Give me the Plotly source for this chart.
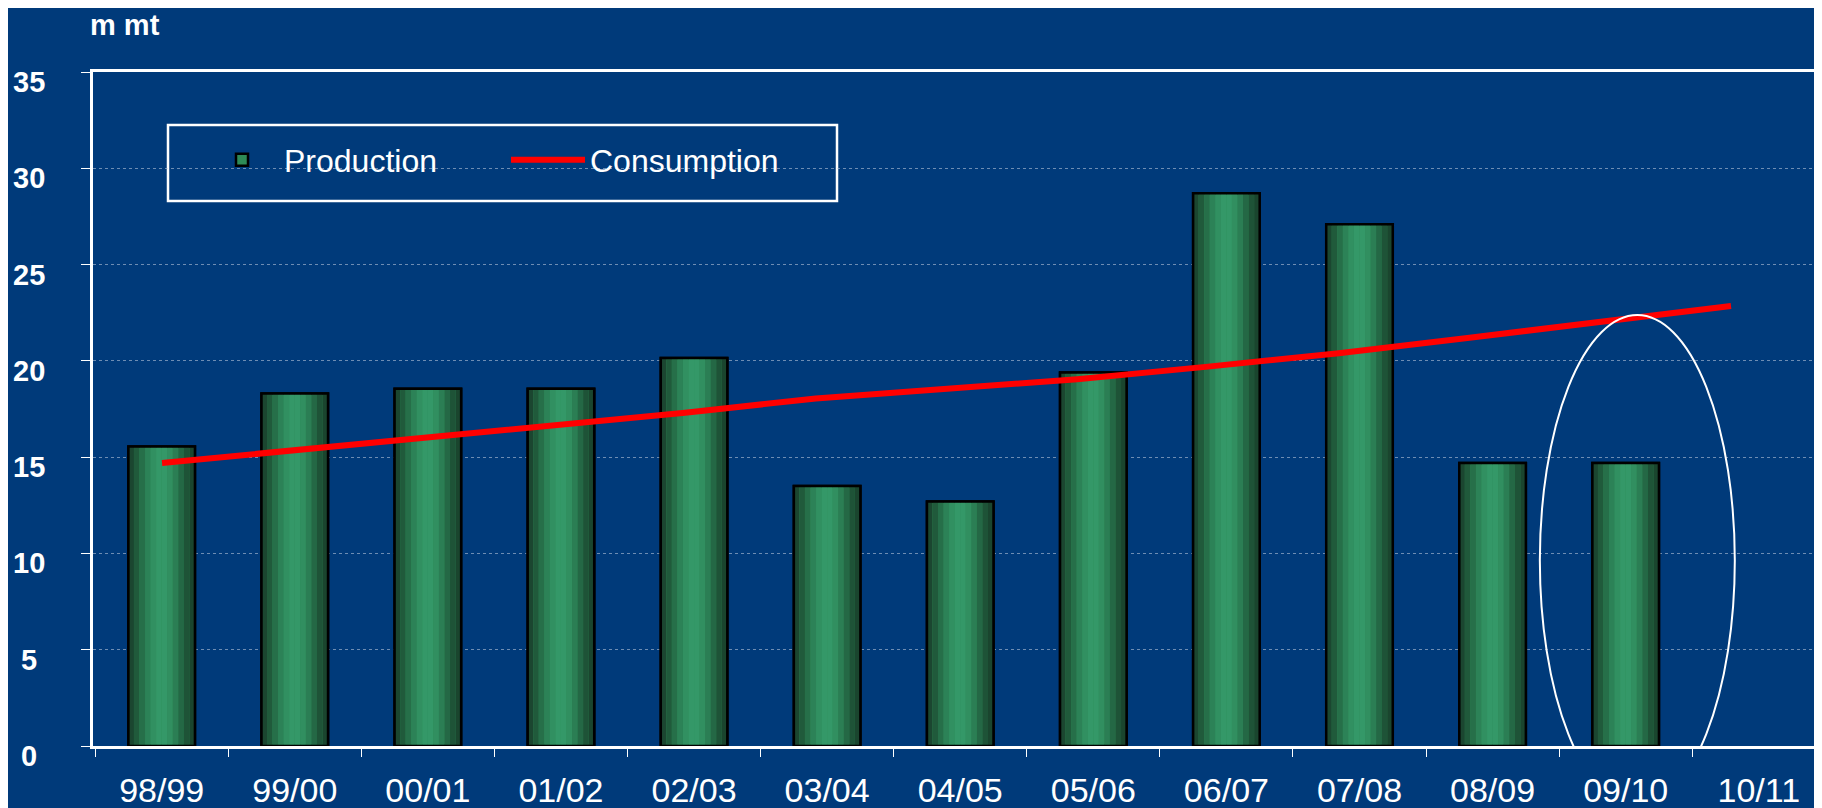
import plotly.graph_objects as go

# ---------------- data ----------------
seasons = ["98/99", "99/00", "00/01", "01/02", "02/03", "03/04", "04/05",
           "05/06", "06/07", "07/08", "08/09", "09/10", "10/11"]
production = [15.55, 18.3, 18.55, 18.55, 20.15, 13.5, 12.7,
              19.4, 28.7, 27.1, 14.7, 14.7, None]
consumption = [14.7, 15.35, 16.0, 16.65, 17.3, 18.05, 18.55,
               19.05, 19.7, 20.4, 21.2, 22.05, 22.85]
y_ticks = [0, 5, 10, 15, 20, 25, 30, 35]
unit_label = "m mt"

# ---------------- style ----------------
BG = "#003a7a"
FONT = "Liberation Sans, Arial, sans-serif"
BAR_W = 0.5
grad = ["#1b4630", "#205a3b", "#266f49", "#2c8257", "#319061", "#349868",
        "#349868", "#318f60", "#2b7e54", "#246845", "#1e5337", "#1a452e"]

OFF = 8  # default page body margin
W, H = 1822 - OFF, 808 - OFF
# plot area in screen pixels
SL, SR, ST, SB = 93, 1816, 72, 746
L, R, T, B = SL - OFF, SR - OFF, ST - OFF, SB - OFF


def px(xs):
    """screen x -> paper x"""
    return (xs - SL) / (SR - SL)


def py(ys):
    """screen y -> paper y"""
    return (SB - ys) / (SB - ST)


fig = go.Figure()

# base bar (legend entry)
fig.add_trace(go.Bar(
    x=seasons, y=production, name="Production", width=BAR_W,
    marker=dict(color="#2e8b57", line=dict(color="black", width=2.5)),
    showlegend=True, hoverinfo="skip"))

# gradient stripes
n = len(grad)
for k, c in enumerate(grad):
    fig.add_trace(go.Bar(
        x=seasons, y=production, width=BAR_W / n,
        offset=-BAR_W / 2 + k * BAR_W / n,
        marker=dict(color=c, line=dict(width=0)),
        showlegend=False, hoverinfo="skip"))

# outline on top
fig.add_trace(go.Bar(
    x=seasons, y=production, width=BAR_W,
    marker=dict(color="rgba(0,0,0,0)", line=dict(color="black", width=2.5)),
    showlegend=False, hoverinfo="skip"))

# consumption line on secondary category axis
fig.add_trace(go.Scatter(
    x=seasons, y=consumption, name="Consumption", mode="lines",
    line=dict(color="#ff0000", width=6), xaxis="x2"))

annotations = []
for v in y_ticks:
    annotations.append(dict(
        x=px(29), xref="paper", y=v, yref="y",
        text=str(v), showarrow=False, xanchor="center", yanchor="middle",
        yshift=-10, font=dict(family=FONT, size=29, color="white", weight="bold")))
annotations.append(dict(
    x=px(89), xref="paper", y=py(OFF), yref="paper",
    text=unit_label, showarrow=False, xanchor="left", yanchor="top",
    borderpad=0,
    font=dict(family=FONT, size=29, color="white", weight="bold")))

shapes = [
    dict(type="rect", xref="paper", yref="paper",
         x0=px(168), x1=px(837), y0=py(201), y1=py(125),
         line=dict(color="white", width=2.5), fillcolor=BG, layer="below"),
    dict(type="circle", xref="x", yref="y",
         x0=10.355, x1=11.82, y0=-3.12, y1=22.38,
         line=dict(color="white", width=2)),
]

fig.update_layout(
    width=W, height=H,
    margin=dict(l=L, r=W - R, t=T, b=H - B, autoexpand=False),
    paper_bgcolor=BG, plot_bgcolor=BG,
    barmode="overlay",
    font=dict(family=FONT, color="white"),
    showlegend=True,
    legend=dict(orientation="h", x=px(200), y=py(160), yanchor="middle",
                xanchor="left", bgcolor="rgba(0,0,0,0)",
                font=dict(family=FONT, size=32, color="white"),
                entrywidth=217, itemwidth=74),
    xaxis=dict(type="category", categoryorder="array", categoryarray=seasons,
               range=[-0.516, 12.43], showgrid=False,
               showline=True, linecolor="white", linewidth=2.5, mirror=True,
               ticks="outside", tickson="boundaries", ticklen=8,
               tickcolor="white", tickwidth=1,
               tickfont=dict(family=FONT, size=34, color="white"),
               ticklabelstandoff=12, zeroline=False),
    xaxis2=dict(type="category", categoryorder="array", categoryarray=seasons,
                overlaying="x", range=[-0.528, 12.65], visible=False),
    yaxis=dict(range=[0, 35], tickvals=y_ticks, showticklabels=False,
               showgrid=True, gridcolor="rgba(200,210,225,0.55)",
               griddash="dot", gridwidth=1,
               showline=True, linecolor="white", linewidth=2.5, mirror=True,
               ticks="outside", ticklen=9, tickcolor="white", tickwidth=1,
               zeroline=False),
    annotations=annotations,
    shapes=shapes,
)

fig.write_html("out.html")
